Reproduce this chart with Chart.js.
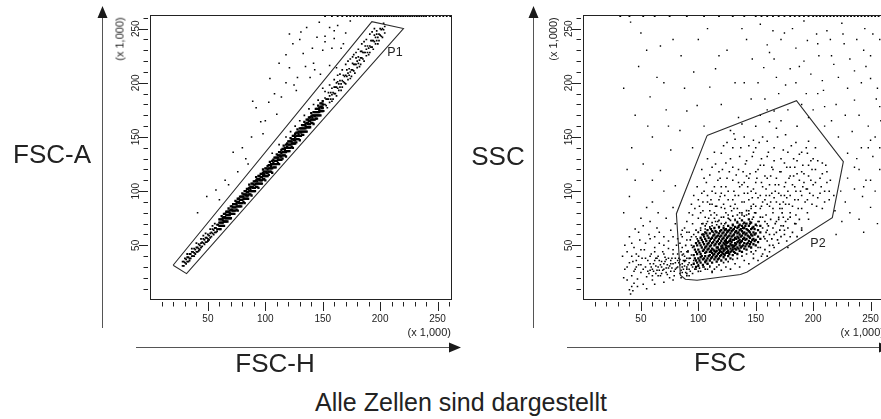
<!DOCTYPE html>
<html><head><meta charset="utf-8">
<script src="https://cdn.jsdelivr.net/npm/chart.js@4.4.1/dist/chart.umd.min.js"></script>
<style>
html,body{margin:0;padding:0;background:#fff;overflow:hidden}
#stage{position:relative;width:881px;height:419px;overflow:hidden;background:#fff;font-family:"Liberation Sans",Arial,sans-serif;color:#222}
canvas{position:absolute;top:0}
#cL{left:0}
#cR{left:470px}
.t{position:absolute;white-space:nowrap;line-height:1;transform:translate(-50%,-50%)}
.big{font-size:26px}
.small{font-size:11px}
.gate{font-size:12.5px}
.rot{transform:translate(-50%,-50%) rotate(-90deg)}
.mult{position:absolute;font-size:11px;line-height:1;white-space:nowrap;width:100px;text-align:right}
</style></head>
<body><div id="stage">
<canvas id="cL" width="470" height="360"></canvas>
<canvas id="cR" width="430" height="360"></canvas>
<div class="t big" style="left:52px;top:154px">FSC-A</div>
<div class="t big" style="left:498px;top:156px">SSC</div>
<div class="t big" style="left:275px;top:363px">FSC-H</div>
<div class="t big" style="left:720px;top:362px">FSC</div>
<div class="t big" style="left:461px;top:402px;font-size:25px">Alle Zellen sind dargestellt</div>
<div class="t small rot" style="left:120px;top:39px">(x 1,000)</div>
<div class="t small rot" style="left:553px;top:39px">(x 1,000)</div>
<div class="mult" style="left:351px;top:327px">(x 1,000)</div>
<div class="mult" style="left:784px;top:327px">(x 1,000)</div>
<div class="t gate" style="left:395px;top:52px">P1</div>
<div class="t gate" style="left:818px;top:243px">P2</div>
</div>
<script>
// ---------- axis / tick values (x 1,000) ----------
const axisMax = 262.144;
const tickLabels = [50, 100, 150, 200, 250];
const minorTicks = [10,20,30,40,60,70,80,90,110,120,130,140,160,170,180,190,210,220,230,240,260];

// ---------- left plot: FSC-H (x) vs FSC-A (y) ----------
const gateP1 = [[19.7,31.6],[192.8,256.5],[220.3,250.1],[31.4,23.9],[19.7,31.6]];
const singletsLow = [[28,31],[28,35],[29,35],[29,31],[30,38],[30,34],[31,33],[31,37],[32,35],[32,39],[33,39],[33,35],[34,42],[34,38],[35,38],[35,42],[36,40],[36,44],[37,44],[37,40],[38,47],[38,43],[39,42],[39,46],[40,44],[40,48],[41,48],[41,44],[42,51],[42,47],[43,46],[43,50],[44,48],[44,52],[45,53],[45,49],[46,56],[46,52],[47,51],[47,55],[48,53],[48,57],[49,57],[49,53],[50,60],[50,56],[51,55],[51,59],[52,57],[52,61],[53,62],[53,58],[54,65],[54,61],[55,60],[55,64],[56,62],[56,66],[57,66],[57,62],[58,69],[58,65],[59,65],[59,69],[32,42],[36,47],[40,52],[44,56],[48,61],[52,65],[56,70],[34,36],[42,45],[50,54],[58,63],[46,59],[38,40],[54,68]];
const singletsCore = [[60,65],[60,68],[60,71],[60,74],[61,68],[61,71],[61,74],[61,65],[62,71],[62,74],[62,68],[62,77],[63,71],[63,68],[63,75],[63,73],[64,76],[64,72],[64,79],[64,68],[65,76],[65,72],[65,79],[65,75],[66,72],[66,75],[66,78],[66,81],[67,75],[67,78],[67,81],[67,72],[68,78],[68,81],[68,75],[68,84],[69,78],[69,75],[69,82],[69,80],[70,83],[70,79],[70,86],[70,75],[71,83],[71,79],[71,86],[71,82],[72,79],[72,82],[72,85],[72,88],[73,82],[73,85],[73,88],[73,79],[74,85],[74,88],[74,82],[74,91],[75,86],[75,83],[75,90],[75,88],[76,90],[76,86],[76,93],[76,82],[77,90],[77,86],[77,93],[77,89],[78,86],[78,89],[78,92],[78,95],[79,89],[79,92],[79,95],[79,86],[80,92],[80,95],[80,89],[80,98],[81,93],[81,90],[81,97],[81,95],[82,97],[82,93],[82,100],[82,89],[83,97],[83,93],[83,100],[83,96],[84,93],[84,96],[84,99],[84,102],[85,96],[85,99],[85,102],[85,93],[86,100],[86,103],[86,97],[86,106],[87,100],[87,97],[87,104],[87,102],[88,104],[88,100],[88,107],[88,96],[89,104],[89,100],[89,107],[89,103],[90,100],[90,103],[90,106],[90,109],[91,103],[91,106],[91,109],[91,100],[92,107],[92,110],[92,104],[92,113],[93,107],[93,104],[93,111],[93,109],[94,111],[94,107],[94,114],[94,103],[95,111],[95,107],[95,114],[95,110],[96,107],[96,110],[96,113],[96,116],[97,110],[97,113],[97,116],[97,107],[98,114],[98,117],[98,111],[98,120],[99,114],[99,111],[99,118],[99,116],[100,118],[100,114],[100,121],[100,110],[101,118],[101,114],[101,121],[101,117],[102,114],[102,117],[102,120],[102,123],[103,118],[103,121],[103,124],[103,115],[104,121],[104,124],[104,118],[104,127],[105,121],[105,118],[105,125],[105,123],[106,125],[106,121],[106,128],[106,117],[107,126],[107,122],[107,129],[107,125],[108,122],[108,125],[108,128],[108,131],[109,125],[109,128],[109,131],[109,122],[110,128],[110,131],[110,125],[110,134],[111,129],[111,126],[111,133],[111,131],[112,133],[112,129],[112,136],[112,125],[113,133],[113,129],[113,136],[113,132],[114,129],[114,132],[114,135],[114,138],[115,133],[115,136],[115,139],[115,130],[116,136],[116,139],[116,133],[116,142],[117,136],[117,133],[117,140],[117,138],[118,140],[118,136],[118,143],[118,132],[119,141],[119,137],[119,144],[119,140],[120,137],[120,140],[120,143],[120,146],[121,140],[121,143],[121,146],[121,137],[122,143],[122,146],[122,140],[122,149],[123,144],[123,141],[123,148],[123,146],[124,148],[124,144],[124,151],[124,140],[125,148],[125,144],[125,151],[125,147],[126,144],[126,147],[126,150],[126,153],[127,148],[127,151],[127,154],[127,145],[128,151],[128,154],[128,148],[128,157],[129,151],[129,148],[129,155],[129,153],[130,155],[130,151],[130,158],[130,147],[131,155],[131,151],[131,158],[131,154],[132,152],[132,155],[132,158],[132,161],[133,155],[133,158],[133,161],[133,152],[134,158],[134,161],[134,155],[134,164],[135,158],[135,155],[135,162],[135,160],[136,163],[136,159],[136,166],[136,155],[137,163],[137,159],[137,166],[137,162],[138,159],[138,162],[138,165],[138,168],[139,162],[139,165],[139,168],[139,159],[140,166],[140,169],[140,163],[140,172],[141,166],[141,163],[141,170],[141,168],[142,170],[142,166],[142,173],[142,162],[143,170],[143,166],[143,173],[143,169],[144,167],[144,170],[144,173],[144,176],[145,170],[145,173],[145,176],[145,167],[146,173],[146,176],[146,170],[146,179],[147,173],[147,170],[147,177],[147,175],[148,178],[148,174],[148,181],[148,170],[149,178],[149,174],[149,181],[149,177],[150,174],[150,177],[150,180],[150,183]];
const singletsHigh = [[151,174],[151,180],[152,180],[152,186],[153,179],[153,185],[154,185],[154,177],[155,185],[155,191],[156,182],[156,188],[157,191],[157,185],[158,183],[158,189],[159,185],[159,191],[160,190],[160,196],[161,190],[161,196],[162,196],[162,188],[163,195],[163,201],[164,193],[164,199],[165,202],[165,196],[166,193],[166,199],[167,196],[167,202],[168,201],[168,207],[169,200],[169,206],[170,207],[170,199],[171,206],[171,212],[172,203],[172,209],[173,213],[173,207],[174,204],[174,210],[175,206],[175,212],[176,212],[176,218],[177,211],[177,217],[178,217],[178,209],[179,217],[179,223],[180,214],[180,220],[181,224],[181,218],[182,215],[182,221],[183,217],[183,223],[184,223],[184,229],[185,222],[185,228],[186,228],[186,220],[187,228],[187,234],[188,225],[188,231],[189,234],[189,228],[190,226],[190,232],[191,228],[191,234],[192,233],[192,239],[193,233],[193,239],[194,239],[194,231],[195,238],[195,244],[196,236],[196,242],[197,245],[197,239],[198,236],[198,242],[199,239],[199,245],[200,244],[200,250],[201,243],[201,249],[202,250],[202,242],[203,249],[203,255],[204,246],[204,252],[152,192],[156,198],[160,203],[163,207],[167,212],[170,217],[174,222],[177,226],[181,231],[184,236],[188,240],[191,245],[195,250],[158,195],[165,208],[172,220],[179,228],[186,238],[193,247],[146,184],[142,180],[138,176],[134,170],[130,165],[126,160],[122,155],[118,150],[112,143],[106,135],[150,195],[162,200],[176,224],[183,229],[197,248]];
const doublets = [[41,80],[49,95],[57,101],[72,136],[98,153],[92,177],[104,204],[114,187],[121,214],[133,227],[145,242],[156,251],[121,245],[136,251],[150,230],[168,236],[174,257],[127,193],[139,205],[156,216],[162,214],[110,171],[89,183],[65,110],[80,140],[118,200],[130,240],[142,218],[152,238],[160,248],[166,232],[148,208],[100,165],[85,125],[60,92],[118,226],[124,236],[128,205],[131,247],[135,215],[141,232],[147,256],[152,243],[158,232],[163,253],[170,246],[112,218],[108,190],[103,182],[96,164],[88,150],[83,130],[76,118],[68,106],[125,198],[143,212],[160,241]];
const saturatedLeft = [[152,261.6],[158,261.6],[163,261.6],[167,261.6],[171,261.6],[174,261.6],[177,261.6],[180,261.6],[183,261.6],[186,261.6],[188,261.6],[190,261.6],[192,261.6],[194,261.6],[196,261.6],[198,261.6],[200,261.6],[202,261.6],[204,261.6],[206,261.6],[208,261.6],[210,261.6],[212,261.6],[214,261.6],[216,261.6],[218,261.6],[220,261.6],[222,261.6],[224,261.6],[226,261.6],[228,261.6],[230,261.6],[232,261.6],[234,261.6],[236,261.6],[238,261.6],[240,261.6],[243,261.6],[246,261.6],[249,261.6],[252,261.6],[255,261.6],[258,261.6],[261,261.6]];

// ---------- right plot: FSC (x) vs SSC (y) ----------
const gateP2 = [[107.6,151.3],[185.5,183.5],[226.3,127.3],[216.7,75.5],[142.5,25.4],[136.7,23],[98.9,17.8],[88.7,18.7],[84.4,22.4],[80.9,79.2],[107.6,151.3]];
const cellsCore = [[96,33],[96,41],[96,49],[98,36],[98,44],[98,52],[98,30],[100,31],[100,38],[100,46],[100,54],[102,34],[102,42],[102,50],[102,57],[102,39],[104,32],[104,37],[104,45],[104,53],[104,60],[106,35],[106,40],[106,48],[106,56],[106,43],[106,62],[108,33],[108,38],[108,46],[108,51],[108,59],[108,64],[110,36],[110,41],[110,44],[110,49],[110,54],[110,61],[112,34],[112,39],[112,47],[112,52],[112,57],[112,63],[112,43],[114,37],[114,42],[114,45],[114,50],[114,55],[114,60],[114,66],[116,35],[116,40],[116,48],[116,53],[116,58],[116,62],[116,45],[118,38],[118,43],[118,46],[118,51],[118,56],[118,61],[118,67],[120,36],[120,41],[120,44],[120,49],[120,54],[120,59],[120,64],[120,47],[122,39],[122,42],[122,47],[122,52],[122,57],[122,62],[122,45],[122,66],[124,37],[124,43],[124,48],[124,50],[124,55],[124,60],[124,65],[124,53],[126,40],[126,45],[126,49],[126,53],[126,58],[126,63],[126,68],[126,43],[128,38],[128,44],[128,47],[128,51],[128,56],[128,61],[128,66],[128,54],[130,41],[130,46],[130,50],[130,55],[130,59],[130,64],[130,69],[130,48],[132,43],[132,47],[132,52],[132,57],[132,62],[132,67],[132,50],[134,42],[134,48],[134,53],[134,58],[134,61],[134,66],[134,71],[136,45],[136,50],[136,55],[136,60],[136,64],[136,69],[136,52],[138,44],[138,49],[138,54],[138,59],[138,63],[138,68],[138,73],[140,47],[140,52],[140,57],[140,62],[140,66],[140,71],[142,46],[142,51],[142,56],[142,61],[142,65],[142,70],[144,49],[144,54],[144,58],[144,63],[144,68],[144,74],[146,48],[146,53],[146,60],[146,65],[146,71],[148,51],[148,56],[148,62],[148,67],[150,50],[150,55],[150,61],[150,69],[152,53],[152,58],[152,64],[154,56],[154,62],[154,68],[97,38],[97,46],[99,34],[99,42],[99,50],[101,36],[101,44],[101,52],[103,40],[103,48],[103,55],[105,38],[105,46],[105,51],[105,58],[107,36],[107,44],[107,49],[107,54],[107,61],[109,40],[109,47],[109,52],[109,57],[111,38],[111,45],[111,50],[111,56],[111,65],[113,41],[113,46],[113,53],[113,59],[115,39],[115,44],[115,51],[115,57],[115,63],[117,42],[117,48],[117,54],[117,59],[117,37],[119,40],[119,45],[119,52],[119,58],[119,63],[121,43],[121,48],[121,50],[121,56],[121,61],[123,41],[123,46],[123,51],[123,54],[123,59],[123,64],[125,44],[125,47],[125,52],[125,57],[125,62],[127,42],[127,49],[127,54],[127,59],[127,64],[129,45],[129,50],[129,53],[129,58],[129,63],[131,44],[131,49],[131,55],[131,60],[131,65],[133,46],[133,51],[133,56],[133,63],[135,47],[135,54],[135,57],[135,62],[135,67],[137,48],[137,53],[137,58],[137,65],[139,50],[139,56],[139,61],[139,66],[141,49],[141,55],[141,60],[141,68],[143,52],[143,59],[143,64],[145,51],[145,57],[145,62],[145,70],[147,55],[147,59],[147,66],[149,54],[149,60],[149,65]];
const cellsHalo = [[86,30],[87,42],[88,36],[89,50],[90,28],[91,44],[92,38],[93,55],[94,32],[95,48],[96,60],[97,28],[98,64],[99,56],[100,62],[101,29],[102,66],[103,60],[104,70],[105,30],[106,68],[108,72],[110,67],[112,71],[114,75],[116,69],[118,73],[120,70],[122,76],[124,71],[126,75],[128,73],[130,77],[132,73],[134,78],[136,75],[138,80],[140,77],[142,82],[144,79],[146,84],[148,76],[150,80],[152,72],[154,76],[156,66],[157,58],[158,72],[159,62],[160,54],[161,68],[162,60],[163,74],[164,56],[165,66],[166,48],[167,70],[168,62],[169,55],[170,74],[171,64],[172,58],[173,80],[174,68],[175,60],[176,72],[177,54],[178,66],[180,76],[182,62],[184,70],[186,58],[188,74],[190,64],[106,28],[110,30],[114,28],[118,32],[122,34],[126,35],[130,37],[134,38],[138,40],[142,42],[146,44],[150,45],[154,48],[158,46],[162,50],[108,33],[116,30],[124,30],[132,33],[140,36],[148,38],[156,42],[100,26],[95,24],[90,22],[112,25],[120,27],[128,28],[136,30],[144,33],[152,36],[160,40]];
const cellsCloud = [[92,62],[95,70],[98,58],[100,75],[102,64],[104,82],[105,60],[107,70],[108,90],[110,66],[111,78],[112,100],[113,62],[115,72],[116,86],[117,110],[118,66],[119,95],[120,76],[121,120],[122,68],[123,84],[124,104],[125,64],[126,92],[127,74],[128,130],[129,82],[130,68],[131,100],[132,88],[133,115],[134,72],[135,96],[136,80],[137,140],[138,106],[139,70],[140,90],[141,125],[142,78],[143,98],[144,112],[145,72],[146,86],[147,132],[148,102],[149,80],[150,118],[151,68],[152,94],[153,145],[154,84],[155,108],[156,76],[157,124],[158,92],[159,102],[160,70],[161,136],[162,86],[163,114],[164,98],[165,80],[166,128],[167,106],[168,90],[169,150],[170,76],[171,118],[172,96],[173,84],[174,138],[175,104],[176,88],[177,122],[178,74],[179,112],[180,96],[181,142],[182,86],[183,130],[184,104],[185,78],[186,116],[187,92],[188,134],[189,100],[190,84],[191,124],[192,108],[193,90],[194,140],[195,80],[196,114],[197,98],[198,128],[199,88],[200,106],[202,120],[204,94],[206,112],[208,84],[210,100],[212,118],[214,92],[100,62],[103,70],[106,65],[109,75],[112,68],[114,80],[117,72],[120,85],[123,70],[126,78],[129,66],[132,74],[135,68],[138,78],[141,70],[144,82],[147,74],[150,86],[153,72],[156,90],[159,78],[162,96],[165,84],[168,72],[171,88],[174,76],[177,94],[180,80],[110,88],[115,98],[120,104],[125,112],[130,92],[135,120],[140,108],[145,116],[150,98],[155,130],[160,112],[165,120],[170,106],[175,126],[180,114],[185,100],[190,118],[195,102],[200,130],[150,140],[160,146],[140,150],[130,140],[120,135],[110,115],[105,100],[100,92],[97,84],[95,78],[115,125],[125,145],[185,145],[195,135],[152,48],[158,56],[162,44],[166,60],[170,52],[175,64],[180,58],[185,70],[190,66],[196,74],[155,40],[160,64],[148,42],[165,50],[172,68],[178,48],[102,80],[104,90],[106,76],[108,96],[110,82],[112,88],[114,104],[116,78],[118,92],[120,98],[122,88],[124,80],[126,100],[128,86],[130,110],[132,96],[134,84],[136,104],[138,90],[140,98],[142,114],[144,92],[146,100],[148,88],[150,108],[152,120],[154,96],[156,104],[158,114],[160,88],[162,106],[164,122],[166,94],[168,112],[170,98],[172,130],[174,90],[176,108],[178,100],[180,122],[182,106],[184,92],[186,128],[188,110],[190,96],[192,116],[194,102],[196,124],[198,110],[200,96],[202,108],[204,128],[206,98],[208,116],[210,90],[212,108],[214,100],[105,112],[112,122],[118,118],[124,126],[130,122],[136,132],[142,128],[148,136],[154,124],[160,132],[166,140],[172,118],[178,136],[184,122],[190,136],[196,146],[202,140],[208,126],[114,136],[122,142],[132,148],[144,142],[156,150],[168,158],[176,152],[186,160],[162,164],[150,160],[138,162],[128,156],[108,130],[103,120],[99,104],[96,96],[94,88],[92,80],[90,72],[88,66],[86,58],[84,52],[101,86],[103,98],[107,108],[111,92],[115,86],[119,112],[123,96],[127,118],[131,84],[135,108],[139,118],[143,104],[147,94],[151,112],[155,86],[159,96],[163,90],[167,100],[171,84],[175,96],[179,88],[183,114],[187,84],[191,104],[195,92],[199,120],[203,86],[207,104],[211,124],[215,110],[218,96],[219,82]];
const debris = [[40,9],[41,5],[42,12],[43,8],[42,22],[43,35],[44,15],[45,28],[46,42],[47,19],[48,32],[49,55],[50,25],[51,38],[52,14],[53,46],[54,30],[55,21],[56,36],[57,60],[58,27],[59,42],[60,18],[61,33],[62,48],[63,24],[64,38],[65,30],[66,52],[67,22],[68,35],[69,44],[70,28],[71,39],[72,25],[73,32],[74,47],[75,20],[76,36],[77,29],[78,42],[79,26],[80,34],[81,50],[82,30],[83,38],[84,24],[85,44],[86,33],[87,28],[88,40],[89,36],[90,30],[91,45],[92,34],[93,26],[94,41],[56,26],[60,28],[63,31],[66,27],[68,24],[70,33],[72,37],[74,29],[76,26],[78,33],[80,28],[82,36],[84,32],[86,41],[88,35],[90,38],[62,36],[65,40],[58,33],[54,38],[50,32],[46,30],[44,48],[48,62],[52,68],[58,72],[64,66],[70,58],[76,64],[80,70],[85,60],[90,55],[42,40],[38,30],[36,50],[45,65],[50,75],[55,85],[60,90],[65,80],[72,75],[78,85],[40,58],[35,20],[47,12],[55,10],[62,14],[70,16],[78,18],[85,20],[92,22],[86,25],[90,24],[95,30],[98,28],[100,32],[102,26],[96,36],[104,30],[106,34],[108,28],[110,31],[112,26],[57,24],[59,30],[61,26],[63,38],[65,22],[67,32],[69,27],[71,35],[73,23],[75,31],[77,38],[79,22],[81,29],[83,34],[85,27],[87,36],[89,25],[91,32],[93,38],[58,40],[62,44],[66,36],[70,42],[74,38],[78,46],[82,42],[86,48],[90,44],[94,50],[60,22],[64,27],[68,30],[72,29],[76,33],[80,38],[84,37],[88,31],[92,28],[52,28],[48,40],[44,26],[40,34],[38,44],[42,52],[46,36],[50,46],[54,52],[58,56],[62,58],[66,62],[70,50],[74,54],[78,58],[82,56],[86,64],[90,62],[94,58],[36,28],[34,40],[38,18]];
const sparseRight = [[220,60],[225,72],[228,90],[232,80],[236,102],[240,74],[243,95],[246,110],[250,85],[254,100],[258,120],[238,130],[248,140],[256,70],[230,112],[224,100],[252,132],[244,62],[260,95],[41,256],[50,246],[67,234],[115,213],[35,195],[58,187],[99,179],[147,222],[157,214],[166,222],[192,220],[218,217],[236,211],[250,204],[209,193],[180,213],[195,239],[203,245],[227,236],[244,230],[175,246],[154,254],[192,257],[154,170],[166,174],[236,184],[259,165],[250,147],[236,122],[244,104],[76,138],[52,125],[67,119],[84,156],[135,168],[148,147],[131,153],[90,174],[60,150],[45,170],[70,200],[85,225],[100,240],[110,196],[125,230],[140,200],[138,250],[160,235],[170,190],[185,200],[200,175],[210,160],[220,180],[230,195],[240,170],[255,185],[260,215],[215,240],[225,255],[245,250],[120,180],[105,160],[95,140],[80,105],[70,100],[60,110],[40,95],[35,80],[45,110],[165,248],[185,232],[205,225],[258,240],[250,225],[152,200],[158,185],[162,228],[168,205],[172,240],[176,198],[182,250],[188,215],[194,190],[198,208],[204,236],[208,202],[212,248],[216,225],[222,205],[226,245],[232,222],[238,240],[242,200],[246,215],[252,245],[256,195],[260,232],[228,170],[234,155],[242,140],[248,160],[254,150],[258,178],[222,150],[216,165],[210,178],[204,190],[196,168],[190,180],[178,175],[172,165],[160,175],[146,185],[142,240],[132,200],[118,225],[108,250],[96,210],[88,195],[78,240],[72,175],[64,205],[55,230],[48,215],[42,140],[38,120],[56,160],[74,160],[230,135],[240,120],[250,110],[258,140]];
const saturatedRight = [[32,261.6],[40,261.6],[52,261.6],[62,261.6],[75,261.6],[90,261.6],[105,261.6],[118,261.6],[130,261.6],[140,261.6],[150,261.6],[155,261.6],[160,261.6],[165,261.6],[170,261.6],[175,261.6],[180,261.6],[184,261.6],[188,261.6],[192,261.6],[196,261.6],[200,261.6],[203,261.6],[206,261.6],[209,261.6],[212,261.6],[215,261.6],[218,261.6],[221,261.6],[224,261.6],[227,261.6],[230,261.6],[233,261.6],[236,261.6],[239,261.6],[242,261.6],[245,261.6],[248,261.6],[251,261.6],[254,261.6],[257,261.6],[260,261.6]];

// ---------- drawing ----------
const FONT = '"Liberation Sans", Arial, sans-serif';
const decor = {
  id: 'decor',
  afterDraw(chart, args, o) {
    const {ctx, chartArea: a, scales: {x, y}} = chart;
    ctx.save();
    ctx.lineWidth = 1;
    ctx.strokeStyle = '#222';
    ctx.strokeRect(a.left, a.top, a.right - a.left, a.bottom - a.top);
    ctx.beginPath();
    const all = tickLabels.map(v => [v, 9]).concat(minorTicks.map(v => [v, 4.5]));
    all.forEach(([v, len]) => {
      const px = Math.round(x.getPixelForValue(v)) + 0.5;
      ctx.moveTo(px, a.bottom + 2.5); ctx.lineTo(px, a.bottom + 2.5 + len);
      const py = Math.round(y.getPixelForValue(v)) + 0.5;
      ctx.moveTo(a.left - 2.5, py); ctx.lineTo(a.left - 2.5 - len, py);
    });
    ctx.stroke();
    ctx.strokeStyle = '#555';
    ctx.beginPath();
    ctx.moveTo(o.vx, o.vTop + 10); ctx.lineTo(o.vx, o.vBottom);
    ctx.moveTo(o.hLeft, o.hy); ctx.lineTo(o.hRight - 10, o.hy);
    ctx.stroke();
    ctx.fillStyle = '#1a1a1a';
    ctx.beginPath();
    ctx.moveTo(o.vx, o.vTop); ctx.lineTo(o.vx - 5, o.vTop + 12); ctx.lineTo(o.vx + 5, o.vTop + 12); ctx.closePath();
    ctx.moveTo(o.hRight, o.hy); ctx.lineTo(o.hRight - 12, o.hy - 5); ctx.lineTo(o.hRight - 12, o.hy + 5); ctx.closePath();
    ctx.fill();
    ctx.restore();
  }
};

function dots(data, r, order) {
  return {data, pointStyle: 'rect', pointRadius: r, pointHoverRadius: r, pointBorderWidth: 0,
          backgroundColor: '#000', borderColor: '#000', showLine: false, order};
}
function gate(data) {
  return {data, showLine: true, fill: false, pointRadius: 0, pointHoverRadius: 0,
          borderColor: '#2a2a2a', borderWidth: 1.1, tension: 0, order: 0};
}
function makeChart(id, datasets, pad, arrows) {
  const tickFont = {family: FONT, size: 10};
  return new Chart(document.getElementById(id), {
    type: 'scatter',
    data: {datasets},
    options: {
      responsive: false, animation: false, devicePixelRatio: 1,
      layout: {padding: pad},
      events: [],
      plugins: {legend: {display: false}, tooltip: {enabled: false}, decor: arrows},
      scales: {
        x: {type: 'linear', min: 0, max: axisMax, position: 'bottom',
            grid: {display: false, drawTicks: false}, border: {display: false},
            ticks: {autoSkip: false, maxRotation: 0, minRotation: 0, padding: 14, color: '#222', font: tickFont},
            afterBuildTicks: s => { s.ticks = tickLabels.map(v => ({value: v})); },
            afterFit: s => { s.height = 40.5; }},
        y: {type: 'linear', min: 0, max: axisMax, position: 'left',
            grid: {display: false, drawTicks: false}, border: {display: false},
            ticks: {autoSkip: false, minRotation: 90, maxRotation: 90, crossAlign: 'center', padding: 5.5, color: '#222', font: tickFont},
            afterBuildTicks: s => { s.ticks = tickLabels.map(v => ({value: v})); },
            afterFit: s => { s.width = 40.5; }}
      }
    },
    plugins: [decor]
  });
}

makeChart('cL', [
  gate(gateP1),
  dots(singletsCore, 1.65, 1), dots(singletsLow, 1.3, 1), dots(singletsHigh, 1.2, 1),
  dots(doublets, 1.1, 2), dots(saturatedLeft, 1.3, 2)
], {left: 110, right: 18.5, top: 15.5, bottom: 20},
{vx: 102.5, vTop: 6, vBottom: 328, hy: 347.5, hLeft: 136, hRight: 461});

makeChart('cR', [
  gate(gateP2),
  dots(cellsCore, 1.6, 1), dots(cellsHalo, 1.15, 1), dots(cellsCloud, 1.1, 1), dots(debris, 1.1, 1),
  dots(sparseRight, 1.0, 2), dots(saturatedRight, 1.3, 2)
], {left: 73, right: 15.5, top: 15.5, bottom: 20},
{vx: 63.5, vTop: 6, vBottom: 328, hy: 347.5, hLeft: 97, hRight: 421});
</script>
</body></html>
